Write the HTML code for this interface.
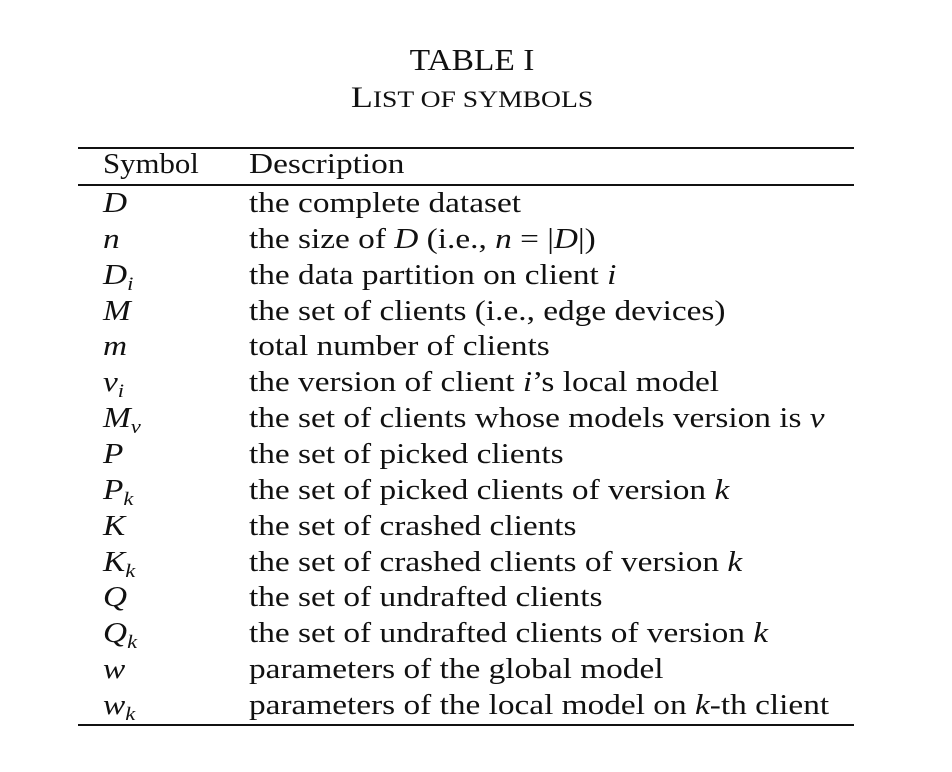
<!DOCTYPE html>
<html><head><meta charset="utf-8"><style>
body{margin:0;width:952px;height:772px;background:#fff;position:relative;font-family:"Liberation Serif",serif;color:#111;overflow:hidden}
.t{position:absolute;white-space:nowrap;line-height:28px;font-size:28px;transform:scaleX(1.19);transform-origin:0 0}
.c{position:absolute;left:0;width:944px;text-align:center;white-space:nowrap}
.rule{position:absolute;left:78px;width:776px;height:2px;background:#111}
i{font-style:italic}
sub{font-size:19px;vertical-align:-6px;line-height:0;font-style:italic}
</style></head><body>
<div class="c" style="top:44px;font-size:31px;line-height:32px;transform:scaleX(1.08)">TABLE I</div>
<div class="c" style="top:82px;font-size:30px;line-height:32px;transform:scaleX(1.2)">L<span style="font-size:23px">IST OF SYMBOLS</span></div>
<div class="rule" style="top:147px"></div>
<div class="rule" style="top:184px"></div>
<div class="rule" style="top:724px"></div>
<div class="t" style="left:103px;top:151px;transform:scaleX(1.1)">Symbol</div>
<div class="t" style="left:249px;top:151px">Description</div>
<div id="rows"></div>
<script>
var r=[
["<i>D</i>","the complete dataset"],
["<i>n</i>","the size of <i>D</i> (i.e., <i>n</i> = |<i>D</i>|)"],
["<i>D</i><sub>i</sub>","the data partition on client <i>i</i>"],
["<i>M</i>","the set of clients (i.e., edge devices)"],
["<i>m</i>","total number of clients"],
["<i>v</i><sub>i</sub>","the version of client <i>i</i>’s local model"],
["<i>M</i><sub>v</sub>","the set of clients whose models version is <i>v</i>"],
["<i>P</i>","the set of picked clients"],
["<i>P</i><sub>k</sub>","the set of picked clients of version <i>k</i>"],
["<i>K</i>","the set of crashed clients"],
["<i>K</i><sub>k</sub>","the set of crashed clients of version <i>k</i>"],
["<i>Q</i>","the set of undrafted clients"],
["<i>Q</i><sub>k</sub>","the set of undrafted clients of version <i>k</i>"],
["<i>w</i>","parameters of the global model"],
["<i>w</i><sub>k</sub>","parameters of the local model on <i>k</i>-th client"]];
var h="";
for(var j=0;j<r.length;j++){var t=190+j*35.86;
h+='<div class="t" style="left:103px;top:'+t+'px">'+r[j][0]+'</div><div class="t" style="left:249px;top:'+t+'px">'+r[j][1]+'</div>';}
document.getElementById("rows").innerHTML=h;
</script>
</body></html>
